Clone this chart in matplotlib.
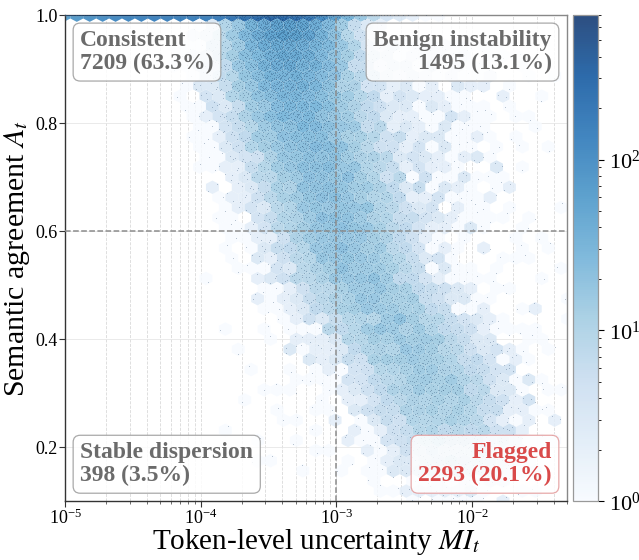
import math
import numpy as np
import matplotlib
matplotlib.use("Agg")
import matplotlib.pyplot as plt
from matplotlib.colors import LogNorm
from matplotlib.ticker import LogLocator

plt.rcParams['font.family'] = ['Liberation Serif', 'DejaVu Serif']
plt.rcParams['mathtext.fontset'] = 'stix'

# ---- data (density description) ----
# each component: agreement range (lo, hi), token count, centre and spread of log10(MI)
comp_lo = [1.00, 1.00, 0.95, 0.90, 0.85, 0.80, 0.75, 0.70, 0.65, 0.60,
           0.55, 0.50, 0.45, 0.40, 0.35, 0.30, 0.25, 0.20, 0.15, 0.10,
           0.60, 0.15, 0.15]
comp_hi = [1.00, 1.00, 1.00, 0.95, 0.90, 0.85, 0.80, 0.75, 0.70, 0.65,
           0.60, 0.55, 0.50, 0.45, 0.40, 0.35, 0.30, 0.25, 0.20, 0.15,
           0.95, 0.60, 0.60]
comp_n = [2300, 1300, 1000, 800, 650, 550, 480, 440, 410, 390,
          380, 360, 340, 330, 320, 300, 260, 190, 120, 40,
          400, 130, 50]
comp_mu = [-4.20, -3.45, -3.36, -3.36, -3.33, -3.28, -3.22, -3.14, -3.08, -3.02,
           -2.94, -2.86, -2.72, -2.58, -2.45, -2.33, -2.26, -2.21, -2.16, -2.12,
           -2.40, -1.90, -3.30]
comp_sd = [0.60, 0.22, 0.24, 0.27, 0.28, 0.29, 0.30, 0.30, 0.30, 0.30,
           0.30, 0.30, 0.31, 0.32, 0.32, 0.32, 0.32, 0.30, 0.30, 0.30,
           0.40, 0.40, 0.30]

quad_names = ["Consistent", "Benign instability", "Stable dispersion", "Flagged"]
quad_counts = [7209, 1495, 398, 2293]
quad_pct = [63.3, 13.1, 3.5, 20.1]
mi_thr = 1e-3
a_thr = 0.6

# inverse normal CDF lookup table
_z = np.linspace(-6, 6, 24001)
_cdf = 0.5 * (1 + np.vectorize(math.erf)(_z / math.sqrt(2)))


def vdc(n, base):
    out = np.zeros(n)
    for k in range(n):
        i, f, r = k + 1, 1.0, 0.0
        while i > 0:
            f /= base
            r += f * (i % base)
            i //= base
        out[k] = r
    return out


def build(lo, hi, n, mu, sd):
    u = vdc(n, 2)
    v = vdc(n, 3)
    lx = mu + sd * np.interp(u, _cdf, _z)
    y = lo + (hi - lo) * v
    return 10 ** lx, y


xs, ys = [], []
for lo, hi, n, mu, sd in zip(comp_lo, comp_hi, comp_n, comp_mu, comp_sd):
    x, y = build(lo, hi, n, mu, sd)
    xs.append(x); ys.append(y)
X = np.concatenate(xs)
Y = np.concatenate(ys)

# ---- figure ----
fig = plt.figure(figsize=(6.39, 5.6), dpi=100)
ax = fig.add_axes([0.102, 0.105, 0.785, 0.868])
cax = fig.add_axes([0.897, 0.105, 0.039, 0.868])

hb = ax.hexbin(X, Y, gridsize=42, xscale='log', cmap='Blues',
               norm=LogNorm(vmin=1, vmax=700), mincnt=1,
               extent=(-5.2, -1.2, 0.1, 1.0), alpha=0.85, linewidths=0,
               zorder=2)
ax.scatter(X, Y, s=0.3, c='#173a60', alpha=0.35, linewidths=0, zorder=3)

ax.set_xscale('log')
ax.set_xlim(1e-5, 5e-2)
ax.set_ylim(0.1, 1.0)
ax.set_yticks([0.2, 0.4, 0.6, 0.8, 1.0])
ax.xaxis.set_major_locator(LogLocator(base=10, numticks=10))
ax.xaxis.set_minor_locator(LogLocator(base=10, subs=np.arange(2, 10), numticks=100))
ax.grid(True, which='major', axis='y', color='#e6e6e6', lw=0.6, zorder=0)
ax.grid(True, which='both', axis='x', color='#d9d9d9', lw=0.6, ls='--', zorder=0)
ax.set_axisbelow(True)

ax.axvline(mi_thr, color='#8c8c8c', ls='--', lw=1.1, zorder=4)
ax.axhline(a_thr, color='#8c8c8c', ls='--', lw=1.1, zorder=4)

for sp in ax.spines.values():
    sp.set_color('#888888')
    sp.set_linewidth(1.0)
ax.spines['left'].set_color('#333333')
ax.spines['bottom'].set_color('#333333')

ax.tick_params(axis='both', which='major', labelsize=13, length=4, color='#333333', pad=1.5)
ax.tick_params(axis='x', which='minor', length=2.5, color='#555555')

ax.set_xlabel(r'Token-level uncertainty $MI_t$', fontsize=21, labelpad=-1)
ax.set_ylabel(r'Semantic agreement $A_t$', fontsize=21.5, labelpad=2)

gray = '#6b6b6b'
red = '#d94a4a'
box_g = dict(boxstyle='round,pad=0.3', facecolor='white', alpha=0.85, edgecolor='#9a9a9a', lw=0.9)
box_r = dict(boxstyle='round,pad=0.3', facecolor='white', alpha=0.85, edgecolor='#e39a9a', lw=0.9)
fs = 17
ls = 1.1
ax.text(0.03, 0.969, f"{quad_names[0]}\n{quad_counts[0]} ({quad_pct[0]}%)", transform=ax.transAxes,
        ha='left', va='top', fontsize=fs, fontweight='bold', color=gray, bbox=box_g, zorder=6,
        linespacing=ls)
ax.text(0.97, 0.969, f"{quad_names[1]}\n{quad_counts[1]} ({quad_pct[1]}%)", transform=ax.transAxes,
        ha='right', va='top', fontsize=fs, fontweight='bold', color=gray, bbox=box_g, zorder=6,
        multialignment='right', linespacing=ls)
ax.text(0.03, 0.031, f"{quad_names[2]}\n{quad_counts[2]} ({quad_pct[2]}%)", transform=ax.transAxes,
        ha='left', va='bottom', fontsize=fs, fontweight='bold', color=gray, bbox=box_g, zorder=6,
        linespacing=ls)
ax.text(0.97, 0.031, f"{quad_names[3]}\n{quad_counts[3]} ({quad_pct[3]}%)", transform=ax.transAxes,
        ha='right', va='bottom', fontsize=fs, fontweight='bold', color=red, bbox=box_r, zorder=6,
        multialignment='right', linespacing=ls)

cb = fig.colorbar(hb, cax=cax)
cb.outline.set_edgecolor('#999999')
cb.outline.set_linewidth(0.9)
cax.tick_params(which='major', labelsize=16, length=4)
cax.tick_params(which='minor', length=2.5)

fig.savefig('out.png', dpi=100)
